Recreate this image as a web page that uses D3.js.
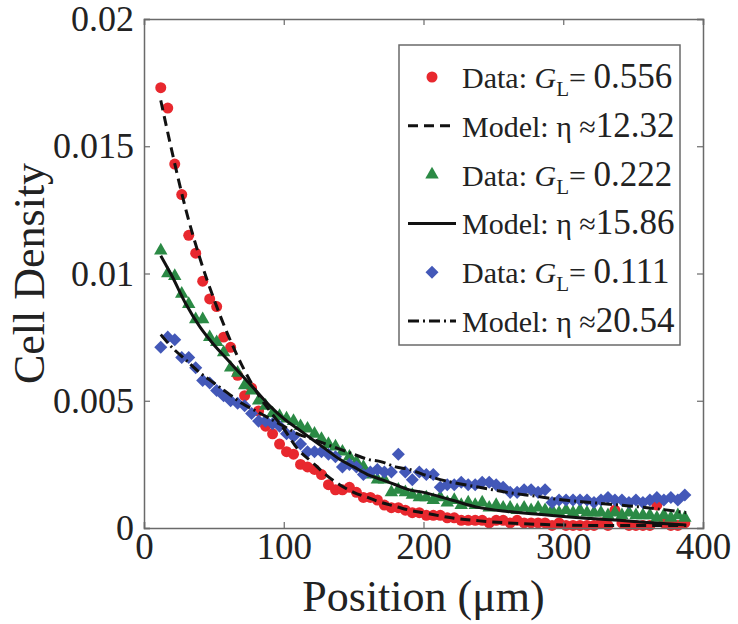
<!DOCTYPE html>
<html>
<head>
<meta charset="utf-8">
<script src="https://cdn.jsdelivr.net/npm/d3@7"></script>
<style>
  html, body { margin: 0; padding: 0; background: #fff; }
  svg text { font-family: "Liberation Serif", "Times New Roman", serif; fill: #222; }
</style>
</head>
<body>
<svg id="chart" width="738" height="624"></svg>
<script>
// ---------- data ----------
const xData = [12,17,22,27,32,37,42,47,52,57,62,67,72,77,82,87,92,97,102,107,
  112,117,122,127,132,137,142,147,152,157,162,167,172,177,182,187,192,197,202,207,
  212,217,222,227,232,237,242,247,252,257,262,267,272,277,282,287,292,297,302,307,
  312,317,322,327,332,337,342,347,352,357,362,367,372,377,382,387];

const redData = [0.0173,0.0165,0.0143,0.0131,0.0115,0.0108,0.0097,0.0090,0.0087,0.0075,
  0.0071,0.0060,0.0052,0.0055,0.0046,0.0040,0.0037,0.0033,0.0030,0.0029,
  0.0025,0.0024,0.0023,0.0021,0.0017,0.0015,0.0015,0.0016,0.0014,0.0012,
  0.0012,0.0011,0.0009,0.0008,0.0008,0.0007,0.0006,0.0006,0.0005,0.0005,
  0.0005,0.0004,0.0004,0.0003,0.0003,0.0003,0.0003,0.0002,0.0003,0.0003,
  0.0002,0.0003,0.0002,0.0002,0.0002,0.0002,0.0001,0.0002,0.0001,0.0001,
  0.0001,0.0001,0.0001,0.0002,0.0001,0.0007,0.0002,0.0001,0.0001,0.0001,
  0.0001,0.0009,0.0002,0.0001,0.0001,0.0002];

const greenData = [0.0109,0.0100,0.0099,0.0092,0.0088,0.0082,0.0082,0.0075,0.0073,0.0069,
  0.0063,0.0061,0.0056,0.0054,0.0050,0.0048,0.0045,0.0044,0.0043,0.0042,
  0.0040,0.0039,0.0037,0.0035,0.0033,0.0032,0.0030,0.0028,0.0026,0.0024,
  0.0021,0.0019,0.0019,0.0014,0.0015,0.0014,0.0013,0.0012,0.0012,0.0011,
  0.0012,0.0010,0.0011,0.0009,0.0010,0.0009,0.0010,0.0008,0.0009,0.0008,
  0.0008,0.0007,0.0008,0.0007,0.0008,0.0007,0.0007,0.0006,0.0007,0.0006,
  0.0007,0.0006,0.0006,0.0006,0.0005,0.0006,0.0005,0.0006,0.0005,0.0005,
  0.0005,0.0004,0.0005,0.0004,0.0005,0.0004];

const blueData = [0.0071,0.0075,0.0074,0.0067,0.0067,0.0063,0.0058,0.0057,0.0054,0.0052,
  0.0050,0.0049,0.0048,0.0045,0.0042,0.0042,0.0041,0.0040,0.0037,0.0036,
  0.0033,0.0030,0.0030,0.0030,0.0029,0.0028,0.0024,0.0025,0.0024,0.0021,
  0.0022,0.0023,0.0022,0.0022,0.0029,0.0022,0.0019,0.0022,0.0021,0.0021,
  0.0016,0.0017,0.0017,0.0018,0.0017,0.0017,0.0018,0.0018,0.0017,0.0016,
  0.0014,0.0014,0.0015,0.0015,0.0014,0.0015,0.0010,0.0011,0.0011,0.0011,
  0.0011,0.0011,0.0010,0.0011,0.0012,0.0011,0.0011,0.0010,0.0011,0.0010,
  0.0011,0.0012,0.0011,0.0012,0.0011,0.0013];

const modelX = [12,20,30,40,50,60,70,80,90,100,110,120,130,140,150,160,170,180,190,200,
  220,240,260,280,300,320,340,360,388];
const redModel = [0.0168,0.0148,0.0125,0.0106,0.0090,0.0076,0.0064,0.0054,0.0046,0.0039,
  0.0031,0.0026,0.0021,0.0017,0.0014,0.0012,0.0010,0.00085,0.0007,0.0006,
  0.0004,0.00028,0.0002,0.00015,0.00012,0.0001,0.0001,0.0001,0.0001];
const greenModel = [0.0107,0.0099,0.0088,0.0079,0.0072,0.0066,0.0060,0.0054,0.0048,0.0043,
  0.0039,0.0035,0.0031,0.0027,0.0024,0.0021,0.0019,0.0017,0.0015,0.0014,
  0.0011,0.0008,0.00065,0.00055,0.00045,0.00037,0.0003,0.00022,0.00012];
const blueModel = [0.0076,0.0071,0.0066,0.0061,0.0057,0.0053,0.0049,0.0046,0.0043,0.0040,
  0.0037,0.0035,0.0033,0.0031,0.0029,0.0027,0.0026,0.0024,0.0023,0.0021,
  0.0018,0.0016,0.0014,0.00125,0.0011,0.0010,0.0009,0.0008,0.0006];

const xTicks = [0,100,200,300,400];
const yTicks = [0,0.005,0.01,0.015,0.02];
const yTickLabels = ["0","0.005","0.01","0.015","0.02"];

const legendLabels = [
  {kind:"data", series:"red", pre:"Data: ", g:"G", sub:"L", post:"= ", num:"0.556"},
  {kind:"model", series:"red", pre:"Model: η ≈", num:"12.32"},
  {kind:"data", series:"green", pre:"Data: ", g:"G", sub:"L", post:"= ", num:"0.222"},
  {kind:"model", series:"green", pre:"Model: η ≈", num:"15.86"},
  {kind:"data", series:"blue", pre:"Data: ", g:"G", sub:"L", post:"= ", num:"0.111"},
  {kind:"model", series:"blue", pre:"Model: η ≈", num:"20.54"}
];

// ---------- styles ----------
const FONT = '"Liberation Serif", "Times New Roman", serif';
const colors = {red:"#e8282e", green:"#2b8a45", blue:"#4358b8"};
const dashes = {red:"10,6", green:null, blue:"11,4,2,4"};
const symbols = {
  red: d3.symbol(d3.symbolCircle, 95),
  green: d3.symbol(d3.symbolTriangle, 78),
  blue: d3.symbol(d3.symbolSquare, 85)
};
const rot = {red:0, green:0, blue:45};

const svg = d3.select("#chart");
const L = 144, R = 703, T = 19, B = 528;
const x = d3.scaleLinear().domain([0,400]).range([L,R]);
const y = d3.scaleLinear().domain([0,0.02]).range([B,T]);

// markers
const seriesData = {red: redData, green: greenData, blue: blueData};
["red","green","blue"].forEach(s => {
  svg.append("g").selectAll("path").data(xData.map((xv,i)=>[xv, seriesData[s][i]]))
    .enter().append("path")
    .attr("d", symbols[s])
    .attr("fill", colors[s])
    .attr("transform", d => `translate(${x(d[0])},${y(d[1])}) rotate(${rot[s]})`);
});

// model lines
const line = d3.line().x(d=>x(d[0])).y(d=>y(d[1])).curve(d3.curveMonotoneX);
const models = {red: redModel, green: greenModel, blue: blueModel};
["red","green","blue"].forEach(s => {
  svg.append("path")
    .datum(modelX.map((xv,i)=>[xv, models[s][i]]))
    .attr("d", line)
    .attr("fill","none")
    .attr("stroke","#111")
    .attr("stroke-width",3)
    .attr("stroke-dasharray", dashes[s]);
});

// axes frame
const axisColor = "#6a6a6a";
const gx = svg.append("g").attr("transform",`translate(0,${B})`)
  .call(d3.axisBottom(x).tickValues(xTicks).tickSize(-6).tickFormat(d3.format("d")));
const gy = svg.append("g").attr("transform",`translate(${L},0)`)
  .call(d3.axisLeft(y).tickValues(yTicks).tickSize(-6).tickPadding(10).tickFormat((d,i)=>yTickLabels[i]));
const gt = svg.append("g").attr("transform",`translate(0,${T})`)
  .call(d3.axisTop(x).tickValues(xTicks).tickSize(-6).tickFormat(""));
const gr = svg.append("g").attr("transform",`translate(${R},0)`)
  .call(d3.axisRight(y).tickValues(yTicks).tickSize(-6).tickFormat(""));
[gx,gy,gt,gr].forEach(g => {
  g.attr("font-family", FONT);
  g.select(".domain").attr("stroke",axisColor).attr("stroke-width",1.5);
  g.selectAll(".tick line").attr("stroke",axisColor).attr("stroke-width",1.2);
  g.selectAll("text").attr("fill","#222").attr("font-family", FONT)
    .style("font-family", FONT);
});
gy.selectAll("text").attr("font-size",36);
gx.selectAll("text").attr("font-size",37).attr("y",31).attr("dy",0);

// axis labels
svg.append("text").attr("x",(L+R)/2).attr("y",611).attr("text-anchor","middle")
  .attr("font-size",44).text("Position (μm)");
svg.append("text").attr("transform",`translate(44,${(T+B)/2}) rotate(-90)`)
  .attr("text-anchor","middle").attr("font-size",44).text("Cell Density");

// legend
const lg = svg.append("g");
const lx0 = 399, ly0 = 45, lw = 281, lh = 300, rowH = 48.8, row0 = 77;
lg.append("rect").attr("x",lx0).attr("y",ly0).attr("width",lw).attr("height",lh)
  .attr("fill","#fff").attr("stroke",axisColor).attr("stroke-width",1.5);
legendLabels.forEach((d,i) => {
  const cy = row0 + i*rowH;
  const t = lg.append("text").attr("x",462).attr("y",cy+11).attr("font-size",30);
  if (d.kind === "data") {
    lg.append("path").attr("d", symbols[d.series]).attr("fill", colors[d.series])
      .attr("transform",`translate(432,${cy}) rotate(${rot[d.series]})`);
    t.append("tspan").text(d.pre);
    t.append("tspan").attr("font-style","italic").text(d.g);
    t.append("tspan").attr("font-size",21).attr("dy",8).text(d.sub);
    t.append("tspan").attr("dy",-8).text(d.post);
    t.append("tspan").attr("font-size",35).text(d.num);
  } else {
    lg.append("line").attr("x1",408).attr("x2",456).attr("y1",cy).attr("y2",cy)
      .attr("stroke","#111").attr("stroke-width",3).attr("stroke-dasharray", dashes[d.series]);
    t.append("tspan").text(d.pre);
    t.append("tspan").attr("font-size",35).text(d.num);
  }
});
</script>
</body>
</html>
